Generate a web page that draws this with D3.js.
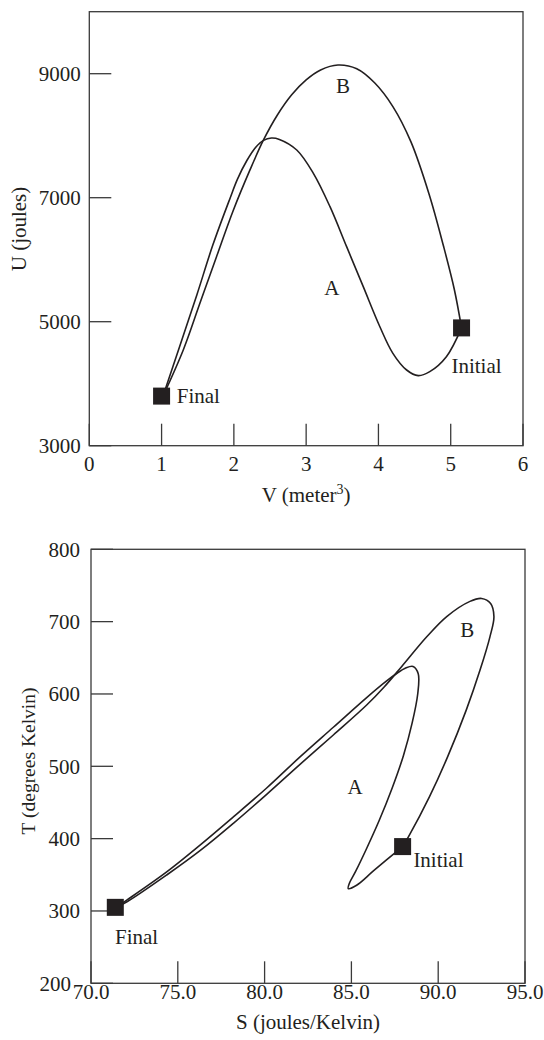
<!DOCTYPE html>
<html>
<head>
<meta charset="utf-8">
<script src="https://cdn.jsdelivr.net/npm/d3@7/dist/d3.min.js"></script>
<style>
  html, body { margin: 0; padding: 0; background: #fff; }
  svg { display: block; }
  text { font-family: "Liberation Serif", "Times New Roman", serif; fill: #231f20; }
</style>
</head>
<body>
<svg id="chart" width="544" height="1040"></svg>
<script>
// ---------- Top chart: U vs V ----------
const uvXTicks = [0, 1, 2, 3, 4, 5, 6];
const uvYTicks = [3000, 5000, 7000, 9000];
// Path A (Final -> Initial)
const uvA_V = [1.02, 1.25, 1.49, 1.71, 1.95, 2.05, 2.18, 2.30, 2.41, 2.52, 2.63, 2.87, 3.10, 3.33, 3.56, 3.79, 4.02, 4.20, 4.39, 4.55, 4.71, 4.94, 5.15];
const uvA_U = [3800, 4600, 5440, 6240, 7000, 7300, 7600, 7810, 7925, 7962, 7940, 7769, 7393, 6855, 6210, 5565, 4919, 4490, 4221, 4130, 4194, 4435, 4900];
// Path B (Final -> Initial)
const uvB_V = [1.02, 1.30, 1.53, 1.76, 1.99, 2.22, 2.41, 2.60, 2.80, 3.00, 3.20, 3.44, 3.70, 3.95, 4.20, 4.45, 4.70, 4.90, 5.05, 5.15];
const uvB_U = [3800, 4544, 5297, 6048, 6790, 7440, 7931, 8330, 8660, 8900, 9060, 9140, 9080, 8850, 8470, 7900, 7060, 6220, 5520, 4900];
const uvStates = [{name: "Final", v: 1.0, u: 3800}, {name: "Initial", v: 5.15, u: 4900}];

// ---------- Bottom chart: T vs S ----------
const tsXTicks = [70, 75, 80, 85, 90, 95];
const tsYTicks = [200, 300, 400, 500, 600, 700, 800];
// Path A (Final -> Initial)
const tsA_S = [71.45, 72.06, 74.36, 76.28, 78.2, 80.12, 82.04, 83.96, 85.88, 87.03, 87.65, 88.1, 88.55, 88.85, 88.82, 88.5, 88.0, 87.35, 86.6, 85.85, 85.25, 84.88, 84.82, 85.3, 86.3, 87.95];
const tsA_T = [305, 315, 354, 391, 430, 470, 513, 554, 595, 618, 629, 635.5, 638, 628, 600, 560, 515, 470, 425, 385, 355, 338, 331, 335.5, 356, 389];
// Path B (Final -> Initial)
const tsB_S = [71.45, 72.1, 74.36, 76.28, 78.2, 80.12, 82.04, 83.96, 85.88, 86.9, 87.9, 89.34, 90.49, 91.83, 92.5, 93.02, 93.21, 92.98, 92.41, 91.62, 90.54, 89.5, 88.3, 87.95];
const tsB_T = [305, 313, 349.7, 383.3, 421.2, 461.3, 502.7, 543.3, 584.7, 610, 638, 679, 707, 728, 732, 725, 707, 679, 633, 578, 513, 458, 403, 389];
const tsStates = [{name: "Final", s: 71.4, t: 305}, {name: "Initial", s: 87.95, t: 389}];

const ink = "#231f20";
const frameInk = "#3a3a3a";
const svg = d3.select("#chart");

function drawChart(cfg) {
  const g = svg.append("g");
  const x = d3.scaleLinear().domain(cfg.xDomain).range([cfg.left, cfg.right]);
  const y = d3.scaleLinear().domain(cfg.yDomain).range([cfg.bottom, cfg.top]);

  // frame
  g.append("rect")
    .attr("x", cfg.left).attr("y", cfg.top)
    .attr("width", cfg.right - cfg.left).attr("height", cfg.bottom - cfg.top)
    .attr("fill", "none").attr("stroke", frameInk).attr("stroke-width", 1.3);

  // inward ticks
  g.selectAll(".yt").data(cfg.yTicks).enter().append("line")
    .attr("x1", cfg.left).attr("x2", cfg.left + 22)
    .attr("y1", d => y(d)).attr("y2", d => y(d))
    .attr("stroke", frameInk).attr("stroke-width", 1.3);
  g.selectAll(".xt").data(cfg.xTicks).enter().append("line")
    .attr("x1", d => x(d)).attr("x2", d => x(d))
    .attr("y1", cfg.bottom).attr("y2", cfg.bottom - 22)
    .attr("stroke", frameInk).attr("stroke-width", 1.3);

  // tick labels
  g.selectAll(".ytl").data(cfg.yTicks).enter().append("text")
    .attr("x", d => cfg.left - cfg.yLabGap - (d === cfg.yDomain[0] ? cfg.yMinShiftX : 0))
    .attr("y", d => y(d))
    .attr("dy", "0.35em")
    .attr("text-anchor", "end").attr("font-size", 21)
    .text(d => cfg.yFmt(d));
  g.selectAll(".xtl").data(cfg.xTicks).enter().append("text")
    .attr("x", d => x(d)).attr("y", cfg.bottom + cfg.xLabGap).attr("dy", "0.35em")
    .attr("text-anchor", "middle").attr("font-size", 21)
    .text(d => cfg.xFmt(d));

  // axis titles
  const xt = g.append("text")
    .attr("x", (cfg.left + cfg.right) / 2).attr("y", cfg.xTitleY)
    .attr("text-anchor", "middle").attr("font-size", 21);
  cfg.xTitle(xt);
  g.append("text")
    .attr("transform", `translate(${cfg.yTitleX},${cfg.yTitleY}) rotate(-90)`)
    .attr("text-anchor", "middle").attr("font-size", cfg.yTitleSize)
    .text(cfg.yTitle);

  // curves
  const line = d3.line().x(d => x(d[0])).y(d => y(d[1])).curve(d3.curveCatmullRom.alpha(0.5));
  cfg.paths.forEach(p => {
    g.append("path").datum(d3.zip(p[0], p[1]))
      .attr("d", line).attr("fill", "none")
      .attr("stroke", ink).attr("stroke-width", 1.6)
      .attr("stroke-linejoin", "round");
  });

  // state markers
  const sz = 17;
  g.selectAll(".st").data(cfg.states).enter().append("rect")
    .attr("x", d => x(d.x) - sz / 2).attr("y", d => y(d.y) - sz / 2)
    .attr("width", sz).attr("height", sz).attr("fill", ink);

  // annotations
  cfg.labels.forEach(l => {
    g.append("text")
      .attr("x", x(l.x)).attr("y", y(l.y)).attr("dy", "0.35em")
      .attr("text-anchor", l.anchor).attr("font-size", 21)
      .text(l.text);
  });
}

drawChart({
  xDomain: [0, 6], yDomain: [3000, 10000],
  left: 89.3, right: 523, top: 11.7, bottom: 445.7,
  xTicks: uvXTicks, yTicks: uvYTicks,
  xFmt: d3.format("d"), yFmt: d3.format("d"),
  yLabGap: 8.5, xLabGap: 17.6, yMinShiftX: 0,
  xTitleY: 502,
  xTitle: t => { t.append("tspan").text("V (meter"); t.append("tspan").attr("font-size", 14).attr("dy", "-0.55em").text("3"); t.append("tspan").attr("dy", "0.35em").text(")"); },
  yTitleX: 26, yTitleY: 229, yTitleSize: 21, yTitle: "U (joules)",
  paths: [[uvA_V, uvA_U], [uvB_V, uvB_U]],
  states: uvStates.map(d => ({x: d.v, y: d.u})),
  labels: [
    {text: "A", x: 3.355, y: 5544, anchor: "middle"},
    {text: "B", x: 3.51, y: 8810, anchor: "middle"},
    {text: "Final", x: 1.21, y: 3815, anchor: "start"},
    {text: "Initial", x: 5.01, y: 4295, anchor: "start"}
  ]
});

drawChart({
  xDomain: [70, 95], yDomain: [200, 800],
  left: 91, right: 525, top: 549.3, bottom: 983.3,
  xTicks: tsXTicks, yTicks: tsYTicks,
  xFmt: d3.format(".1f"), yFmt: d3.format("d"),
  yLabGap: 11, xLabGap: 8.5, yMinShiftX: 9,
  xTitleY: 1028.5,
  xTitle: t => t.text("S (joules/Kelvin)"),
  yTitleX: 35, yTitleY: 761, yTitleSize: 19.5, yTitle: "T (degrees Kelvin)",
  paths: [[tsA_S, tsA_T], [tsB_S, tsB_T]],
  states: tsStates.map(d => ({x: d.s, y: d.t})),
  labels: [
    {text: "A", x: 85.21, y: 471.8, anchor: "middle"},
    {text: "B", x: 91.68, y: 689.4, anchor: "middle"},
    {text: "Final", x: 71.38, y: 264.4, anchor: "start"},
    {text: "Initial", x: 88.57, y: 370.4, anchor: "start"}
  ]
});
</script>
</body>
</html>
